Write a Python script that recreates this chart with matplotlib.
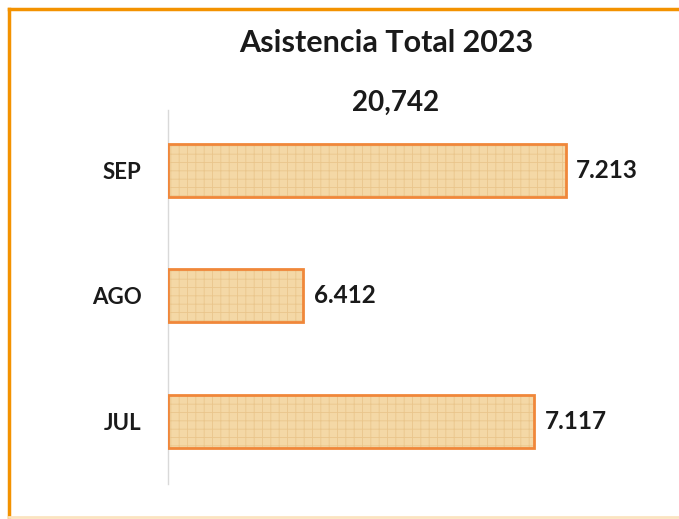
import matplotlib
matplotlib.use("Agg")
import matplotlib.pyplot as plt
from matplotlib.lines import Line2D

categories = ["JUL", "AGO", "SEP"]
values = [7117, 6412, 7213]
value_labels = ["7.117", "6.412", "7.213"]
title = "Asistencia Total 2023"
total_label = "20,742"

plt.rcParams['font.family'] = ['Lato', 'DejaVu Sans']
plt.rcParams['hatch.linewidth'] = 0.6

fig = plt.figure(figsize=(6.79, 5.19), dpi=100)
fig.patch.set_facecolor('white')
ax = fig.add_axes([168/679, (519-484)/519, (660-168)/679, (484-110)/519])
ax.set_facecolor('none')

base = 6000
ypos = list(range(len(categories)))
widths = [v - base for v in values]
# textured fill
ax.barh(ypos, widths, left=base, height=0.42, color='#F4D8A6',
        edgecolor='#EAC68C', hatch='++', linewidth=0, zorder=2)
# outline
ax.barh(ypos, widths, left=base, height=0.42, fill=False,
        edgecolor='#F0873A', linewidth=2, zorder=3)

for y, v, lab in zip(ypos, values, value_labels):
    ax.annotate(lab, (v, y), xytext=(7.5, 0), textcoords='offset points',
                ha='left', va='center', fontsize=17.5, fontweight='bold',
                color='#1a1a1a')

ax.set_xlim(base, 7500)
ax.set_ylim(-0.5, 2.48)
ax.set_yticks(ypos)
ax.set_yticklabels(categories, fontsize=16, fontweight='bold', color='#1a1a1a')
ax.tick_params(axis='y', length=0, pad=19)
ax.set_xticks([])
for s in ['top', 'right', 'bottom']:
    ax.spines[s].set_visible(False)
ax.spines['left'].set_color('#D9D9D9')
ax.spines['left'].set_linewidth(1)

fig.text(386/679, 1-43/519, title, ha='center', va='center', fontsize=22,
         fontweight='bold', color='#1a1a1a')
fig.text(396/679, 1-103/519, total_label, ha='center', va='center', fontsize=20,
         fontweight='bold', color='#1a1a1a')

# orange frame
fig.add_artist(Line2D([9/679, 1], [1-9/519, 1-9/519], transform=fig.transFigure,
                      color='#F39200', linewidth=2.5))
fig.add_artist(Line2D([9/679, 9/679], [0, 1-9/519], transform=fig.transFigure,
                      color='#F39200', linewidth=2.5))
fig.add_artist(Line2D([9/679, 1], [2/519, 2/519], transform=fig.transFigure,
                      color='#FBE3C0', linewidth=2))

fig.savefig("out.png", dpi=100)
